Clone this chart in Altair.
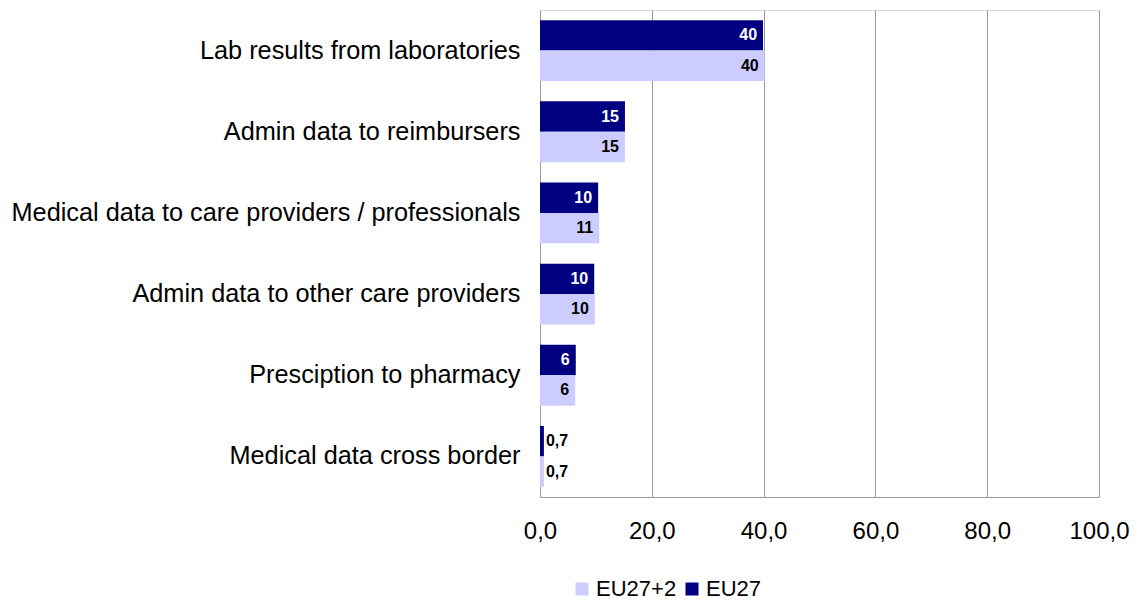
import altair as alt
import pandas as pd

categories = [
    "Lab results from laboratories",
    "Admin data to reimbursers",
    "Medical data to care providers / professionals",
    "Admin data to other care providers",
    "Presciption to pharmacy",
    "Medical data cross border",
]
eu27 = [39.9, 15.2, 10.4, 9.7, 6.4, 0.7]
eu27_2 = [40.2, 15.2, 10.6, 9.8, 6.3, 0.7]
series = ["EU27", "EU27+2"]
ticks = [0, 20, 40, 60, 80, 100]

rows = []
for c, a, b in zip(categories, eu27, eu27_2):
    rows.append({"cat": c, "series": "EU27", "v": a})
    rows.append({"cat": c, "series": "EU27+2", "v": b})
df = pd.DataFrame(rows)

FONT = "Liberation Sans"

y = alt.Y("cat:N", sort=categories, title=None,
          scale=alt.Scale(paddingInner=0.25, paddingOuter=0.125),
          axis=alt.Axis(labelFontSize=25.3, labelColor="black", labelFont=FONT,
                        labelPadding=20, ticks=False, domainColor="#999999",
                        labelLimit=700))
x = alt.X("v:Q", title=None,
          scale=alt.Scale(domain=[0, 100], nice=False),
          axis=alt.Axis(values=ticks, grid=True, gridColor="#999999", ticks=False,
                        domainColor="#999999", labelFontSize=24, labelColor="black",
                        labelFont=FONT, labelPadding=22, labelFlush=False,
                        labelOverlap=False,
                        labelExpr="replace(format(datum.value, '.1f'), '.', ',')"))
yoff = alt.YOffset("series:N", scale=alt.Scale(domain=series, paddingInner=0, paddingOuter=0))

base = alt.Chart(df).transform_calculate(
    label="datum.v < 1 ? replace(format(datum.v, '.1f'), '.', ',') : format(datum.v, '.0f')"
)

bars = base.mark_bar().encode(
    y=y, x=x, yOffset=yoff,
    color=alt.Color("series:N",
                    scale=alt.Scale(domain=["EU27+2", "EU27"], range=["#CCCCFF", "#000080"]),
                    legend=alt.Legend(title=None, orient="none", direction="horizontal",
                                      legendX=31, legendY=568, symbolType="square",
                                      symbolSize=169, symbolStrokeWidth=0,
                                      labelFontSize=22, labelFont=FONT, labelColor="black",
                                      columnPadding=4, labelOffset=3, padding=0)),
)

inside = base.transform_filter("datum.v >= 3").mark_text(
    align="right", dx=-6, fontWeight="bold", fontSize=16, font=FONT
).encode(
    y=alt.Y("cat:N", sort=categories), x="v:Q", yOffset=yoff, text="label:N",
    color=alt.Color("series:N", scale=alt.Scale(domain=["EU27+2", "EU27"], range=["black", "white"]), legend=None),
)

outside = base.transform_filter("datum.v < 3").mark_text(
    align="left", dx=2, fontWeight="bold", fontSize=16, font=FONT, color="black"
).encode(
    y=alt.Y("cat:N", sort=categories), x="v:Q", yOffset=yoff, text="label:N",
)

chart = alt.layer(bars, inside, outside).resolve_scale(color="independent").properties(
    width=559, height=487,
    autosize=alt.AutoSizeParams(type="none"),
    padding={"left": 532, "top": 2, "right": 32, "bottom": 107},
).configure_view(stroke=None).configure(font=FONT)

chart.save("out.html", embed_options={"renderer": "svg", "actions": False})
